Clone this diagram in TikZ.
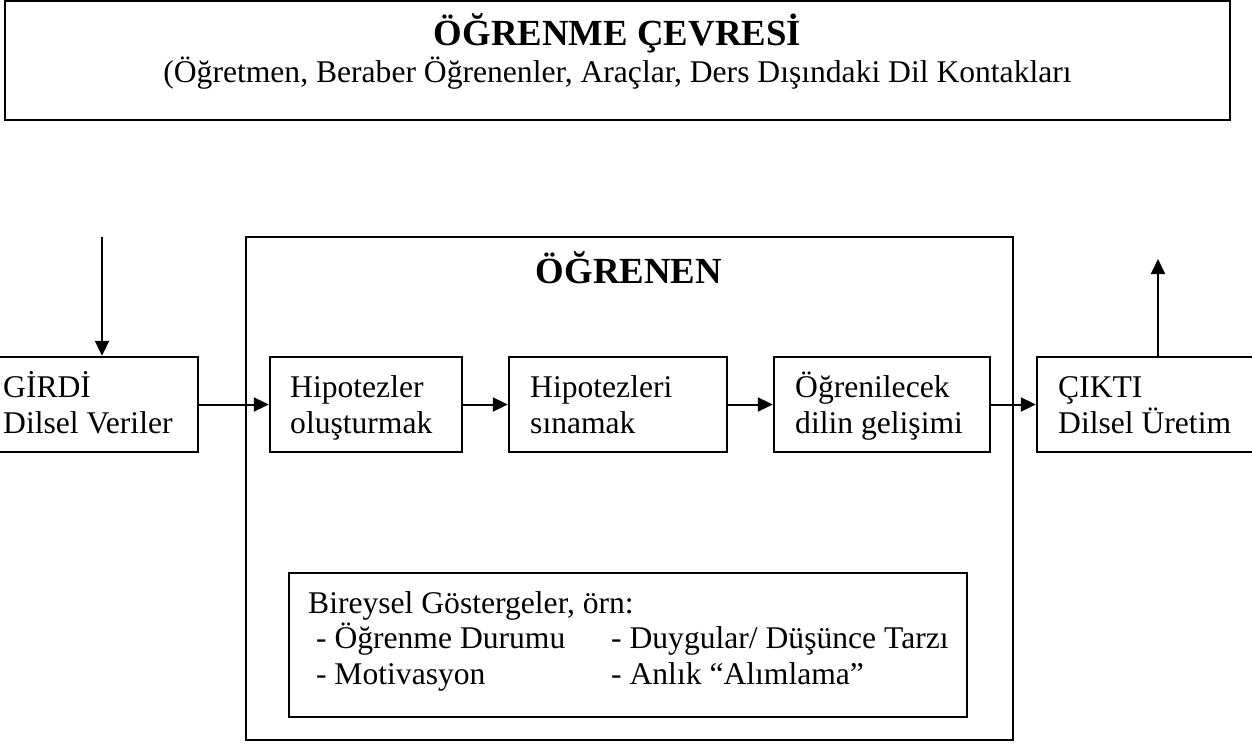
\documentclass[tikz,border=0pt]{standalone}
\usepackage{fontspec}
\setmainfont{Liberation Serif}
\usetikzlibrary{arrows.meta}
\begin{document}
\begin{tikzpicture}[x=1pt,y=-1pt,
  box/.style={draw, line width=2.4pt, inner sep=0pt, minimum height=95pt},
  frame/.style={draw, line width=2.4pt, inner sep=0pt},
  body/.style={font=\fontsize{31.6}{36}\selectfont, inner sep=0pt, align=left, anchor=base west},
  titletext/.style={font=\fontsize{36.8}{40}\selectfont\bfseries, inner sep=0pt, anchor=base},
  arr/.style={line width=2pt, -{Triangle[length=15pt,width=14pt]}}
]
\useasboundingbox (0,0) rectangle (1252,744);
% environment box
\node[frame, line width=2.8pt, minimum width=1225pt, minimum height=119pt] (env) at (617.5,60.5) {};
\node[titletext] (envtitle) at (617.5,45) {ÖĞRENME ÇEVRESİ};
\node[body, anchor=base] (envsub) at (617.5,82) {(Öğretmen, Beraber Öğrenenler, Araçlar, Ders Dışındaki Dil Kontakları};
% learner box
\node[frame, minimum width=767pt, minimum height=503pt] (learner) at (629.5,488.5) {};
\node[titletext] (learnertitle) at (629,283) {ÖĞRENEN};
% row boxes
\node[box, minimum width=216pt] (girdi) at (90,404.5) {};
\node[box, minimum width=192pt] (hyp1) at (366,404.5) {};
\node[box, minimum width=218pt] (hyp2) at (618,404.5) {};
\node[box, minimum width=216pt] (ogr) at (882,404.5) {};
\node[box, minimum width=216pt] (cikti) at (1145,404.5) {};
\node[body] (tgirdi) at (3,433) {GİRDİ\\Dilsel Veriler};
\node[body] (thyp1) at (290,433) {Hipotezler\\oluşturmak};
\node[body] (thyp2) at (530,433) {Hipotezleri\\sınamak};
\node[body] (togr) at (795,433) {Öğrenilecek\\dilin gelişimi};
\node[body] (tcikti) at (1058,433) {ÇIKTI\\Dilsel Üretim};
% individual indicators
\node[frame, minimum width=678pt, minimum height=144pt] (ind) at (628,645) {};
\node[body, font=\fontsize{31.6}{35.5}\selectfont] (tind) at (308,684) {Bireysel Göstergeler, örn:\\\makebox[303pt][l]{\ - Öğrenme Durumu}- Duygular/ Düşünce Tarzı\\\makebox[303pt][l]{\ - Motivasyon}- Anlık “Alımlama”};
% connectors
\coordinate (inTop) at (102,237);
\coordinate (outTop) at (1158,259);
\draw[arr] (inTop) -- (inTop |- girdi.north);
\draw[arr] (girdi.east) -- (hyp1.west);
\draw[arr] (hyp1.east) -- (hyp2.west);
\draw[arr] (hyp2.east) -- (ogr.west);
\draw[arr] (ogr.east) -- (cikti.west);
\draw[arr] (outTop |- cikti.north) -- (outTop);
\end{tikzpicture}
\end{document}
